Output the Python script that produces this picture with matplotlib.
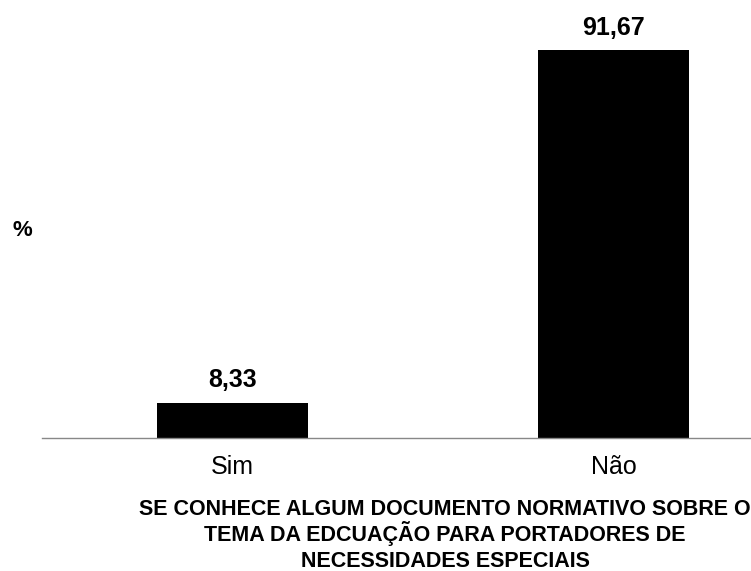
import matplotlib.pyplot as plt

plt.rcParams['font.family'] = ['Liberation Sans', 'DejaVu Sans']

categories = ['Sim', 'Não']
values = [8.33, 91.67]
value_labels = ['8,33', '91,67']
title_lines = [
    'SE CONHECE ALGUM DOCUMENTO NORMATIVO SOBRE O',
    'TEMA DA EDCUAÇÃO PARA PORTADORES DE',
    'NECESSIDADES ESPECIAIS',
]

fig = plt.figure(figsize=(7.51, 5.71), dpi=100)
ax = fig.add_axes([42 / 751, 133 / 571, 709 / 751, 423 / 571])

x = range(len(categories))
bars = ax.bar(x, values, width=0.396, color='black')

for bar, lab in zip(bars, value_labels):
    ax.annotate(lab, (bar.get_x() + bar.get_width() / 2, bar.get_height()),
                xytext=(0, 11), textcoords='offset points',
                ha='center', va='baseline', fontsize=18, fontweight='bold')

ax.set_xlim(-0.5, 1.361)
ax.set_ylim(0, 100)
ax.set_xticks(list(x))
ax.set_xticklabels(categories, fontsize=18)
ax.tick_params(axis='x', length=0, pad=12)
ax.set_yticks([])

for side in ['top', 'right', 'left']:
    ax.spines[side].set_visible(False)
ax.spines['bottom'].set_color('#888888')
ax.spines['bottom'].set_linewidth(1)

fig.text(22 / 751, 1 - 230 / 571, '%', fontsize=16, fontweight='bold',
         ha='center', va='center')

# three-line axis caption, placed line by line
for i, line in enumerate(title_lines):
    fig.text(445 / 751, 1 - (515 + 26 * i) / 571, line,
             fontsize=15.5, fontweight='bold', ha='center', va='baseline')

fig.savefig('out.png', dpi=100)
